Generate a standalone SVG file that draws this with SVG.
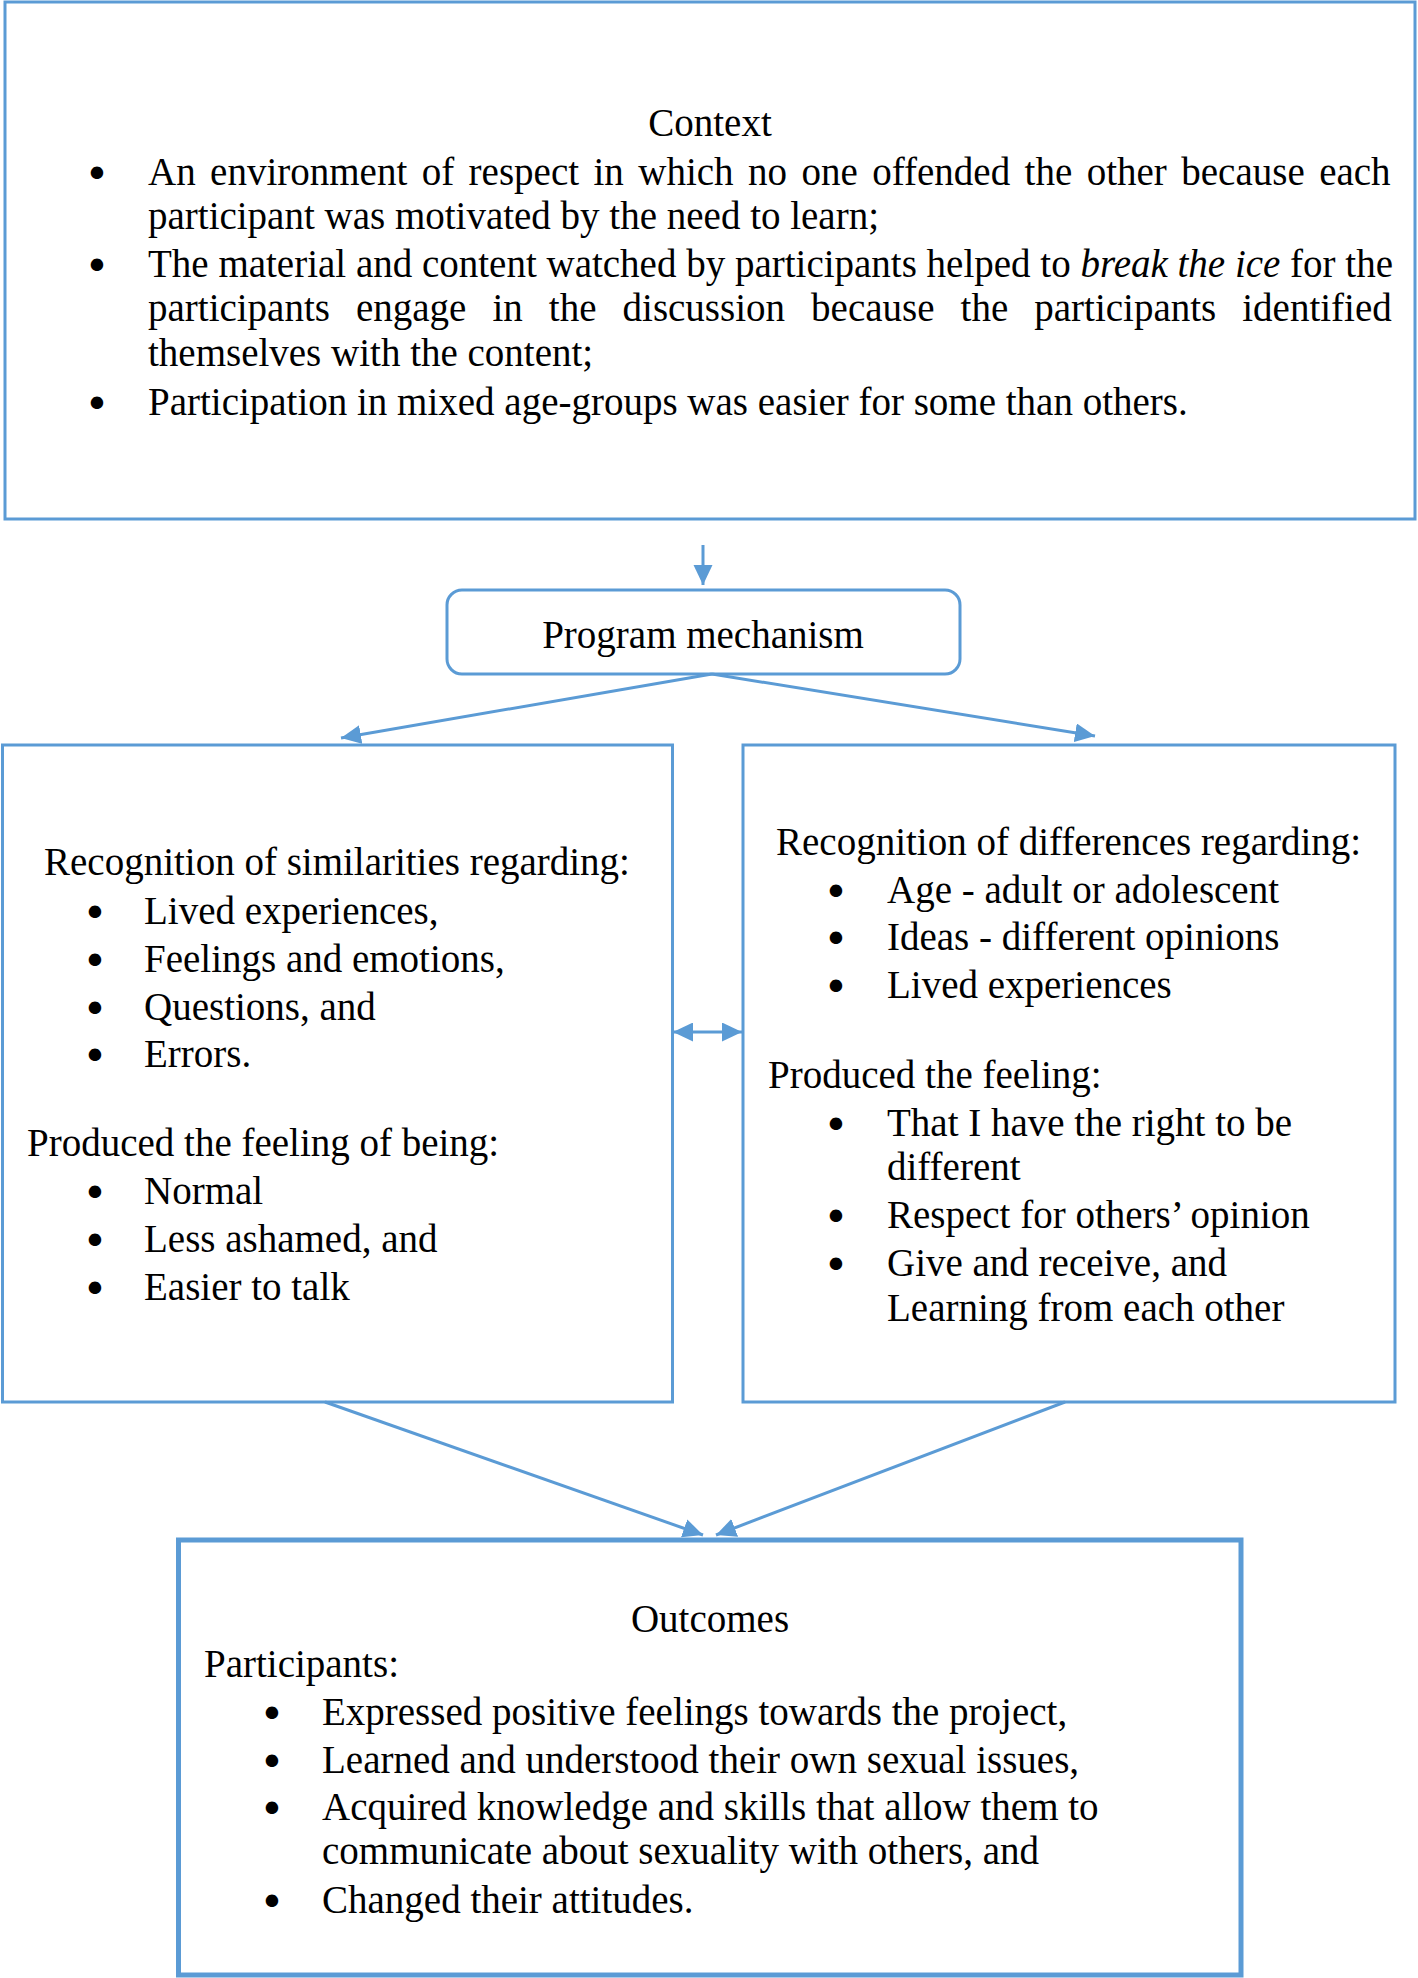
<svg xmlns="http://www.w3.org/2000/svg" width="1418" height="1978" viewBox="0 0 1418 1978">
<defs>
<style>
.box{fill:#fff;stroke:#5B9BD5;stroke-width:3}
.thick{stroke-width:5}
.t{font-family:"Liberation Serif","Times New Roman",serif;font-size:39px;fill:#000}
.c{text-anchor:middle}
.b{font-family:"DejaVu Sans",sans-serif;font-size:43px;fill:#000;text-anchor:middle}
.con{stroke:#5B9BD5;stroke-width:3;fill:none}
</style>
<marker id="ah" markerUnits="userSpaceOnUse" markerWidth="22" markerHeight="20" refX="20" refY="9.5" orient="auto">
<path d="M0,0 L20,9.5 L0,19 z" fill="#5B9BD5"/>
</marker>
<marker id="as" markerUnits="userSpaceOnUse" markerWidth="22" markerHeight="20" refX="0" refY="9.5" orient="auto">
<path d="M20,0 L0,9.5 L20,19 z" fill="#5B9BD5"/>
</marker>
</defs>
<rect width="1418" height="1978" fill="#fff"/>

<g id="context">
<rect class="box" x="5" y="2" width="1410" height="517"/>
<text class="t c" x="710" y="136">Context</text>
<text class="b" x="97" y="188.5">•</text>
<text class="t" x="148" y="185" word-spacing="4.7">An environment of respect in which no one offended the other because each</text>
<text class="t" x="148" y="229">participant was motivated by the need to learn;</text>
<text class="b" x="97" y="280.5">•</text>
<text class="t" x="148" y="277" word-spacing="0">The material and content watched by participants helped to <tspan font-style="italic">break the ice</tspan> for the</text>
<text class="t" x="148" y="321" word-spacing="16.3">participants engage in the discussion because the participants identified</text>
<text class="t" x="148" y="366">themselves with the content;</text>
<text class="b" x="97" y="418.5">•</text>
<text class="t" x="148" y="415">Participation in mixed age-groups was easier for some than others.</text>
</g>

<g id="program">
<rect class="box" x="447" y="590" width="513" height="84" rx="15" ry="15"/>
<text class="t c" x="703" y="648">Program mechanism</text>
</g>

<g id="similarities">
<rect class="box" x="2.5" y="745" width="670" height="657"/>
<text class="t" x="44" y="875">Recognition of similarities regarding:</text>
<text class="b" x="95" y="927.5">•</text><text class="t" x="144" y="924">Lived experiences,</text>
<text class="b" x="95" y="975.5">•</text><text class="t" x="144" y="972">Feelings and emotions,</text>
<text class="b" x="95" y="1023.5">•</text><text class="t" x="144" y="1020">Questions, and</text>
<text class="b" x="95" y="1070.5">•</text><text class="t" x="144" y="1067">Errors.</text>
<text class="t" x="27" y="1156">Produced the feeling of being:</text>
<text class="b" x="95" y="1207.5">•</text><text class="t" x="144" y="1204">Normal</text>
<text class="b" x="95" y="1255.5">•</text><text class="t" x="144" y="1252">Less ashamed, and</text>
<text class="b" x="95" y="1303.5">•</text><text class="t" x="144" y="1300">Easier to talk</text>
</g>

<g id="differences">
<rect class="box" x="743" y="745" width="652" height="657"/>
<text class="t" x="776" y="855">Recognition of differences regarding:</text>
<text class="b" x="836" y="906.5">•</text><text class="t" x="887" y="903">Age - adult or adolescent</text>
<text class="b" x="836" y="953.5">•</text><text class="t" x="887" y="950">Ideas - different opinions</text>
<text class="b" x="836" y="1001.5">•</text><text class="t" x="887" y="998">Lived experiences</text>
<text class="t" x="768" y="1088">Produced the feeling:</text>
<text class="b" x="836" y="1139.5">•</text><text class="t" x="887" y="1136">That I have the right to be</text>
<text class="t" x="887" y="1180">different</text>
<text class="b" x="836" y="1231.5">•</text><text class="t" x="887" y="1228">Respect for others’ opinion</text>
<text class="b" x="836" y="1279.5">•</text><text class="t" x="887" y="1276">Give and receive, and</text>
<text class="t" x="887" y="1321">Learning from each other</text>
</g>

<g id="outcomes">
<rect class="box thick" x="178.5" y="1540" width="1062.5" height="435"/>
<text class="t c" x="710" y="1632">Outcomes</text>
<text class="t" x="204" y="1677">Participants:</text>
<text class="b" x="272" y="1728.5">•</text><text class="t" x="322" y="1725">Expressed positive feelings towards the project,</text>
<text class="b" x="272" y="1776.5">•</text><text class="t" x="322" y="1773">Learned and understood their own sexual issues,</text>
<text class="b" x="272" y="1823.5">•</text><text class="t" x="322" y="1820">Acquired knowledge and skills that allow them to</text>
<text class="t" x="322" y="1864">communicate about sexuality with others, and</text>
<text class="b" x="272" y="1916.5">•</text><text class="t" x="322" y="1913">Changed their attitudes.</text>
</g>

<g id="connectors">
<line class="con" x1="703" y1="545" x2="703" y2="585" marker-end="url(#ah)"/>
<line class="con" x1="712" y1="674" x2="341" y2="738" marker-end="url(#ah)"/>
<line class="con" x1="712" y1="674" x2="1095" y2="736" marker-end="url(#ah)"/>
<line class="con" x1="673" y1="1032" x2="742" y2="1032" marker-start="url(#as)" marker-end="url(#ah)"/>
<line class="con" x1="325" y1="1402" x2="703" y2="1535" marker-end="url(#ah)"/>
<line class="con" x1="1065" y1="1402" x2="716" y2="1535" marker-end="url(#ah)"/>
</g>
</svg>
